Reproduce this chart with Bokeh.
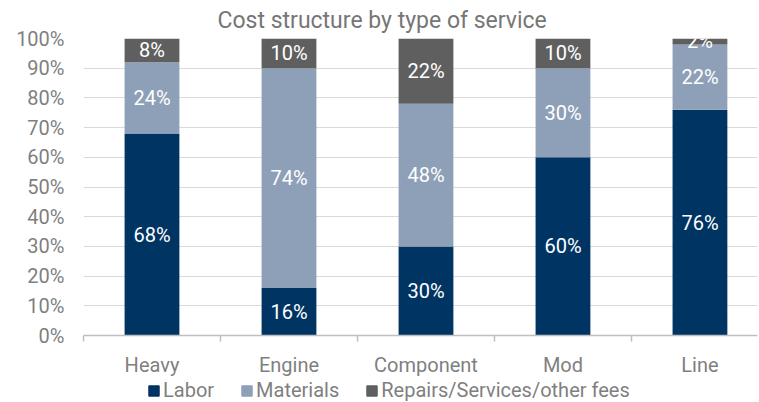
from bokeh.plotting import figure
from bokeh.layouts import column
from bokeh.models import ColumnDataSource, FixedTicker, Legend, LegendItem, Title, NumeralTickFormatter, Range1d
from bokeh.embed import file_html
from bokeh.resources import INLINE
from bokeh.core.properties import value

categories = ["Heavy", "Engine", "Component", "Mod", "Line"]
labor = [68, 16, 30, 60, 76]
materials = [24, 74, 48, 30, 22]
repairs = [8, 10, 22, 10, 2]
series_names = ["Labor", "Materials", "Repairs/Services/other fees"]
colors = ["#003462", "#8EA0B8", "#5F5F5F"]
y_ticks = [0, 10, 20, 30, 40, 50, 60, 70, 80, 90, 100]

FONT = "Roboto"
GRAY = "#7F7F7F"
TITLE_GRAY = "#767676"

xs = list(range(len(categories)))
src = ColumnDataSource(dict(
    x=xs,
    labor=[v / 100 for v in labor],
    materials=[v / 100 for v in materials],
    repairs=[v / 100 for v in repairs],
))

p = figure(width=759, height=379, output_backend="svg", toolbar_location=None,
           x_range=Range1d(-0.5, 4.42), y_range=Range1d(0, 1),
           min_border_left=83, min_border_right=2, min_border_top=38, min_border_bottom=41)
p.outline_line_color = None
p.background_fill_color = "white"
p.border_fill_color = "white"

renderers = p.vbar_stack(["labor", "materials", "repairs"], x="x", width=0.4, source=src,
                         color=colors, line_color=None)

# labels
stack = [labor, materials, repairs]
for i, vals in enumerate(stack):
    below = [0] * len(vals)
    for j in range(i):
        below = [b + pv for b, pv in zip(below, stack[j])]
    mids = [(b + v / 2) / 100 for b, v in zip(below, vals)]
    lsrc = ColumnDataSource(dict(x=xs, y=mids, t=[f"{v}%" for v in vals]))
    p.text(x="x", y="y", text="t", source=lsrc, text_color="white",
           text_font=value(FONT), text_font_size="20px",
           text_align="center", text_baseline="middle")

# y axis
p.yaxis.ticker = FixedTicker(ticks=[t / 100 for t in y_ticks])
p.yaxis.formatter = NumeralTickFormatter(format="0%")
p.yaxis.axis_line_color = None
p.yaxis.major_tick_line_color = None
p.yaxis.major_tick_out = 0
p.yaxis.minor_tick_line_color = None
p.yaxis.major_label_text_font = FONT
p.yaxis.major_label_text_font_size = "20px"
p.yaxis.major_label_text_color = GRAY
p.yaxis.major_label_standoff = 19

# x axis
p.xaxis.ticker = FixedTicker(ticks=xs, minor_ticks=[x - 0.5 for x in xs] + [4.5])
p.xaxis.major_label_overrides = {i: c for i, c in enumerate(categories)}
p.xaxis.axis_line_color = "#BFBFBF"
p.xaxis.axis_line_width = 1.5
p.xaxis.major_tick_line_color = None
p.xaxis.major_tick_out = 0
p.xaxis.minor_tick_line_color = "#BFBFBF"
p.xaxis.minor_tick_line_width = 1.5
p.xaxis.minor_tick_in = 0
p.xaxis.minor_tick_out = 6
p.xaxis.major_label_text_font = FONT
p.xaxis.major_label_text_font_size = "20px"
p.xaxis.major_label_text_color = GRAY
p.xaxis.major_label_standoff = 11

p.xgrid.grid_line_color = None
p.ygrid.ticker = FixedTicker(ticks=[t / 100 for t in y_ticks])
p.ygrid.grid_line_color = "#D9D9D9"
p.ygrid.grid_line_width = 1

p.title = Title(text="Cost structure by type of service", align="left",
                text_font=FONT, text_font_size="23px", text_color=TITLE_GRAY,
                text_font_style="normal", offset=134, standoff=9)

# legend strip
lg = figure(width=759, height=23, output_backend="svg", toolbar_location=None,
            x_range=Range1d(0, 1), y_range=Range1d(0, 1),
            x_axis_type=None, y_axis_type=None,
            min_border_left=83, min_border_right=2, min_border_top=0, min_border_bottom=0)
lg.outline_line_color = None
lg.xgrid.grid_line_color = None
lg.ygrid.grid_line_color = None
dummies = [lg.rect(x=[-5], y=[-5], width=0.1, height=0.1, color=c) for c in colors]
legend = Legend(items=[LegendItem(label=n, renderers=[r]) for n, r in zip(series_names, dummies)],
                orientation="horizontal", location=(64, 0),
                label_text_font=FONT, label_text_font_size="20px", label_text_color=GRAY,
                glyph_width=13, glyph_height=13, spacing=26, padding=0, margin=0,
                border_line_color=None, background_fill_alpha=0, label_standoff=3)
lg.add_layout(legend, "center")

layout = column(p, lg, spacing=0)
open("out.html", "w").write(file_html(layout, INLINE))
